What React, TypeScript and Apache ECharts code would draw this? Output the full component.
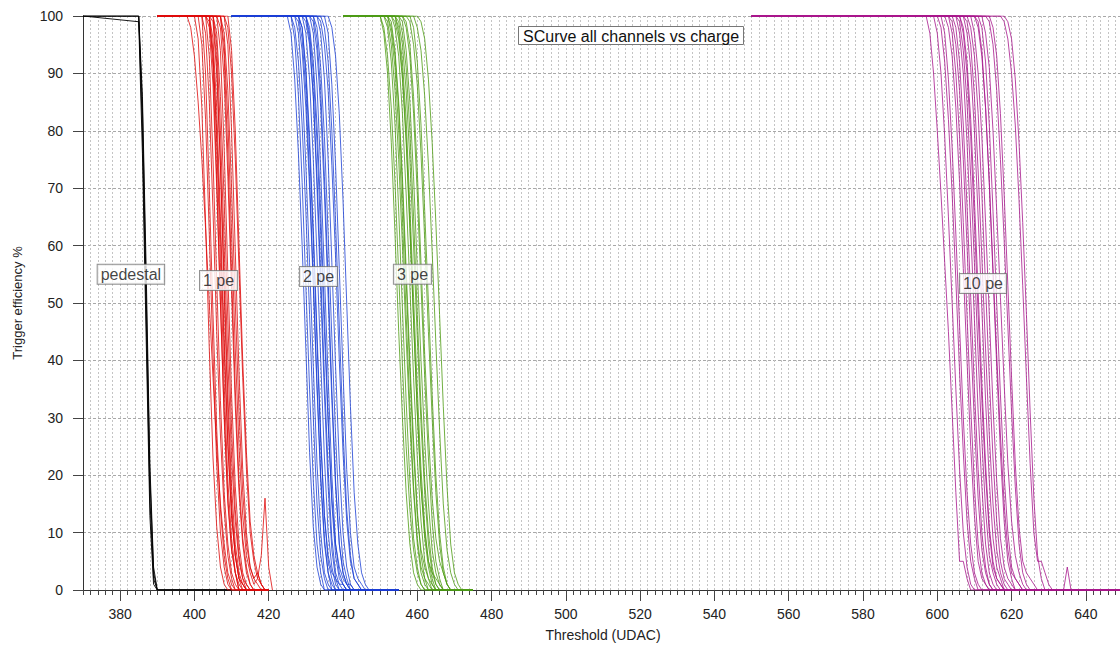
import React, { useEffect, useRef } from "react";
import * as echarts from "echarts";

// ---- data ----
const xTicks = [380, 400, 420, 440, 460, 480, 500, 520, 540, 560, 580, 600, 620, 640];
const yTicks = [0, 10, 20, 30, 40, 50, 60, 70, 80, 90, 100];

// pedestal (black): range and curves (values at consecutive thresholds from start)
const pedRange = [370, 410];
const pedStarts = [385, 385, 385, 385];
const pedValues = [
  [100, 80, 48, 16, 2, 0],
  [100, 84, 52, 20, 3, 0],
  [99, 76, 44, 13, 1, 0],
  [100, 86, 56, 22, 4, 0],
];

// 1 pe (red)
const pe1Range = [390, 420];
const pe1Starts = [401, 402, 402, 403, 403, 404, 404, 404, 405, 405, 405, 406, 406, 407, 407, 407, 408, 408, 409, 403, 400, 404, 398];
const pe1Values = [
  [100, 95, 82, 62, 41, 22, 10, 4, 1, 0],
  [100, 90, 70, 48, 28, 14, 6, 2, 0],
  [100, 97, 85, 66, 45, 27, 14, 6, 2, 0],
  [100, 93, 75, 54, 33, 17, 8, 3, 1, 0],
  [100, 98, 88, 70, 50, 31, 16, 7, 3, 0],
  [100, 94, 78, 57, 36, 19, 9, 3, 0],
  [100, 96, 84, 65, 44, 26, 13, 6, 2, 1, 0],
  [100, 99, 90, 74, 54, 34, 18, 8, 3, 1, 0],
  [100, 92, 74, 52, 31, 15, 6, 2, 0],
  [100, 97, 86, 68, 47, 28, 14, 6, 2, 0],
  [100, 95, 80, 60, 40, 23, 12, 5, 2, 1, 0],
  [100, 94, 77, 55, 34, 18, 8, 3, 1, 0],
  [100, 98, 89, 72, 52, 32, 17, 8, 3, 1, 0],
  [100, 95, 82, 62, 42, 25, 13, 6, 3, 1, 2, 6, 16, 4, 0],
  [100, 93, 76, 55, 35, 19, 9, 4, 1, 0],
  [100, 97, 87, 70, 50, 31, 17, 8, 4, 2, 1, 0],
  [100, 95, 80, 59, 38, 21, 10, 4, 2, 3, 1, 0],
  [100, 98, 90, 75, 56, 37, 21, 10, 5, 2, 1, 0],
  [100, 94, 80, 60, 40, 24, 12, 6, 3, 1, 0],
  [100, 99, 93, 80, 62, 42, 25, 13, 6, 2, 1, 0],
  [100, 96, 84, 64, 42, 23, 11, 4, 1, 0],
  [100, 91, 72, 50, 30, 15, 7, 3, 1, 0],
  [100, 98, 93, 85, 75, 63, 50, 37, 25, 15, 8, 3, 1, 0],
];

// 2 pe (blue)
const pe2Range = [410, 455];
const pe2Starts = [425, 426, 426, 427, 427, 428, 428, 429, 429, 430, 430, 431, 431, 432, 432, 433, 434, 435, 436, 428, 430, 433];
const pe2Values = [
  [100, 97, 89, 76, 60, 42, 24, 11, 4, 1, 0],
  [100, 96, 86, 71, 53, 35, 19, 8, 3, 0],
  [100, 98, 92, 81, 66, 48, 30, 15, 6, 2, 0],
  [100, 97, 88, 74, 57, 39, 22, 10, 3, 1, 0],
  [100, 99, 94, 84, 70, 53, 35, 19, 8, 3, 1, 0],
  [100, 96, 87, 72, 54, 36, 20, 9, 3, 0],
  [100, 98, 91, 79, 63, 45, 27, 13, 5, 2, 0],
  [100, 97, 89, 75, 58, 40, 23, 10, 4, 1, 0],
  [100, 99, 95, 86, 72, 55, 37, 21, 9, 3, 1, 0],
  [100, 96, 86, 70, 52, 34, 18, 7, 2, 0],
  [100, 98, 92, 81, 66, 48, 30, 15, 6, 2, 1, 0],
  [100, 97, 88, 73, 55, 37, 20, 8, 3, 1, 0],
  [100, 99, 94, 84, 69, 51, 33, 18, 8, 3, 1, 0],
  [100, 96, 87, 72, 54, 35, 19, 8, 3, 1, 0],
  [100, 98, 91, 79, 62, 44, 27, 13, 5, 2, 0],
  [100, 97, 89, 75, 57, 39, 22, 10, 4, 1, 0],
  [100, 98, 92, 80, 64, 46, 28, 14, 6, 2, 1, 0],
  [100, 97, 88, 74, 56, 38, 21, 10, 4, 2, 1, 0],
  [100, 98, 93, 83, 68, 50, 32, 17, 8, 3, 1, 0],
  [100, 98, 90, 77, 61, 43, 26, 13, 6, 3, 2, 1, 1, 0],
  [100, 97, 90, 78, 62, 45, 29, 16, 8, 4, 2, 1, 1, 0],
  [100, 99, 95, 87, 74, 58, 40, 24, 12, 5, 2, 1, 0],
];

// 3 pe (green)
const pe3Range = [440, 475];
const pe3Starts = [450, 450, 451, 451, 452, 452, 453, 453, 454, 454, 455, 455, 456, 457, 458, 460, 459, 452, 454, 456];
const pe3Values = [
  [100, 98, 93, 84, 71, 55, 39, 25, 14, 7, 3, 1, 0],
  [100, 97, 90, 78, 62, 45, 30, 17, 8, 3, 1, 0],
  [100, 99, 95, 87, 75, 60, 44, 29, 17, 8, 3, 1, 0],
  [100, 98, 92, 81, 66, 49, 33, 19, 9, 4, 1, 0],
  [100, 99, 94, 85, 72, 56, 40, 26, 14, 6, 2, 0],
  [100, 97, 91, 80, 65, 48, 32, 18, 9, 4, 2, 1, 0],
  [100, 98, 93, 83, 69, 53, 37, 23, 12, 5, 2, 0],
  [100, 99, 96, 89, 78, 63, 47, 31, 18, 9, 4, 1, 0],
  [100, 98, 92, 82, 67, 51, 35, 21, 11, 5, 2, 0],
  [100, 99, 95, 87, 75, 60, 44, 29, 17, 8, 3, 1, 0],
  [100, 97, 91, 80, 65, 48, 32, 19, 10, 4, 1, 0],
  [100, 99, 94, 85, 72, 56, 40, 26, 15, 7, 3, 1, 0],
  [100, 98, 93, 83, 69, 53, 37, 23, 12, 5, 2, 0],
  [100, 99, 95, 88, 76, 61, 45, 30, 17, 8, 3, 1, 0],
  [100, 98, 92, 81, 66, 50, 34, 20, 10, 4, 1, 0],
  [100, 99, 96, 89, 78, 64, 48, 32, 18, 8, 3, 1, 0],
  [100, 98, 94, 86, 74, 59, 43, 28, 15, 7, 3, 1, 0],
  [100, 98, 93, 84, 70, 54, 38, 24, 13, 7, 4, 2, 1, 0],
  [100, 97, 90, 79, 64, 47, 31, 18, 10, 5, 3, 2, 1, 0],
  [100, 99, 95, 86, 73, 57, 41, 27, 16, 9, 5, 3, 1, 0],
];

// 10 pe (magenta)
const pe10Range = [550, 650];
const pe10Starts = [597, 599, 600, 601, 602, 603, 603, 604, 605, 605, 606, 607, 607, 608, 609, 610, 611, 612, 613, 617, 618, 606, 610, 614];
const pe10Values = [
  [100, 97, 90, 80, 69, 57, 45, 31, 17, 5, 5, 2, 0],
  [100, 97, 90, 79, 65, 50, 35, 21, 10, 4, 1, 0],
  [100, 98, 92, 82, 69, 54, 38, 24, 12, 5, 2, 0],
  [100, 97, 89, 77, 62, 46, 30, 17, 8, 3, 1, 0],
  [100, 98, 93, 84, 71, 56, 40, 25, 13, 5, 2, 1, 0],
  [100, 97, 90, 79, 64, 48, 32, 18, 8, 3, 1, 0],
  [100, 99, 95, 87, 75, 60, 44, 29, 16, 7, 3, 1, 0],
  [100, 98, 92, 81, 67, 51, 35, 21, 10, 4, 1, 0],
  [100, 97, 90, 78, 63, 47, 31, 18, 8, 3, 1, 0],
  [100, 99, 94, 85, 72, 57, 41, 26, 14, 6, 3, 1, 0],
  [100, 98, 92, 82, 68, 52, 36, 22, 11, 5, 2, 1, 0],
  [100, 97, 91, 80, 65, 49, 33, 19, 9, 4, 2, 0],
  [100, 99, 95, 86, 73, 58, 42, 27, 15, 7, 3, 1, 0],
  [100, 98, 93, 83, 69, 53, 37, 23, 12, 5, 2, 1, 0],
  [100, 97, 90, 79, 64, 48, 32, 19, 9, 4, 2, 1, 0],
  [100, 99, 94, 84, 71, 55, 39, 24, 12, 5, 2, 0],
  [100, 98, 92, 81, 66, 50, 34, 20, 10, 4, 2, 1, 0],
  [100, 97, 91, 80, 66, 51, 36, 22, 12, 6, 3, 1, 0],
  [100, 99, 95, 87, 75, 61, 46, 31, 18, 8, 3, 1, 0],
  [100, 99, 96, 90, 81, 68, 53, 37, 22, 10, 5, 5, 3, 1, 0],
  [100, 99, 96, 89, 78, 64, 48, 31, 16, 6, 2, 0],
  [100, 97, 90, 79, 64, 48, 33, 20, 10, 4, 2, 1, 0, 0, 0, 0, 0, 0, 0, 0, 0, 0, 0, 0, 0, 0, 0, 0, 0, 4, 0],
  [100, 98, 93, 84, 71, 56, 41, 27, 15, 7, 3, 2, 1, 0],
  [100, 98, 93, 83, 69, 53, 37, 22, 11, 5, 3, 2, 1, 0],
];

// annotation labels
const labelNames = ["pedestal", "1 pe", "2 pe", "3 pe", "10 pe"];
const labelX = [382.9, 406.5, 433.4, 458.7, 612.3];
const labelY = [55.0, 53.9, 54.6, 55.0, 53.4];

const titleText = "SCurve all channels vs charge";

function buildCurves(range: number[], starts: number[], values: number[][]) {
  return values.map((vals, k) => {
    const pts: number[][] = [[range[0], 100]];
    vals.forEach((v, i) => pts.push([starts[k] + i, v]));
    const last = starts[k] + vals.length - 1;
    if (last < range[1]) pts.push([range[1], 0]);
    return pts;
  });
}

const groups = [
  { range: pedRange, starts: pedStarts, values: pedValues, color: "#000000", opacity: 0.9 },
  { range: pe1Range, starts: pe1Starts, values: pe1Values, color: "#de0a0a", opacity: 0.8 },
  { range: pe2Range, starts: pe2Starts, values: pe2Values, color: "#1c40d4", opacity: 0.8 },
  { range: pe3Range, starts: pe3Starts, values: pe3Values, color: "#4f9c14", opacity: 0.8 },
  { range: pe10Range, starts: pe10Starts, values: pe10Values, color: "#a8188c", opacity: 0.8 },
];

const GRID_LEFT = 83;
const GRID_TOP = 16;
const GRID_W = 1040;
const GRID_H = 574;

export default function App() {
  const ref = useRef<HTMLDivElement>(null);
  useEffect(() => {
    if (!ref.current) return;
    const chart = echarts.init(ref.current, null, { renderer: "svg" });
    const font = "Liberation Sans, Arial, sans-serif";
    const series: any[] = [];
    groups.forEach((g) => {
      buildCurves(g.range, g.starts, g.values).forEach((pts) => {
        series.push({
          type: "line",
          xAxisIndex: 0,
          yAxisIndex: 0,
          data: pts,
          showSymbol: false,
          silent: true,
          lineStyle: { color: g.color, width: 1, opacity: g.opacity },
          z: 3,
        });
      });
    });
    series.push({
      type: "scatter",
      xAxisIndex: 0,
      yAxisIndex: 0,
      symbolSize: 0,
      silent: true,
      z: 10,
      data: labelNames.map((n, i) => ({ value: [labelX[i], labelY[i]], name: n })),
      label: {
        show: true,
        position: "inside",
        formatter: (p: any) => p.name,
        color: "#111",
        fontSize: 16,
        fontFamily: font,
        backgroundColor: "#ffffff",
        borderColor: "#777",
        borderWidth: 1,
        padding: [2, 3, 1, 3],
      },
    });
    // The tick axis is shifted by 10 units so that its interval of 20 starts at 380.
    const shift = (GRID_W * 10) / 280;
    chart.setOption({
      animation: false,
      backgroundColor: "#ffffff",
      title: {
        text: titleText,
        left: 518,
        top: 26,
        backgroundColor: "#ffffff",
        borderColor: "#777",
        borderWidth: 1,
        padding: [2, 5, 1, 5],
        textStyle: { fontSize: 16, fontWeight: "normal", color: "#111", fontFamily: font },
      },
      grid: [
        { left: GRID_LEFT, top: GRID_TOP, width: GRID_W, height: GRID_H, containLabel: false, outerBoundsMode: "none" },
        { left: GRID_LEFT + shift, top: GRID_TOP, width: GRID_W, height: GRID_H, containLabel: false, outerBoundsMode: "none" },
      ],
      xAxis: [
        {
          type: "value",
          gridIndex: 0,
          min: 370,
          max: 650,
          interval: 2,
          name: "Threshold (UDAC)",
          nameLocation: "middle",
          nameGap: 38,
          nameTextStyle: { fontSize: 14, color: "#222", fontFamily: font },
          axisLine: { show: true, onZero: false, lineStyle: { color: "#333", width: 1 } },
          axisTick: { show: true, length: 5, lineStyle: { color: "#444" } },
          axisLabel: { show: false },
          splitLine: { show: true, lineStyle: { color: "#c4c4c4", type: [2, 2], width: 1 } },
        },
        {
          type: "value",
          gridIndex: 1,
          min: 380,
          max: 660,
          interval: 20,
          axisLine: { show: false, onZero: false },
          axisTick: { show: true, length: 11, lineStyle: { color: "#444" } },
          axisLabel: {
            fontSize: 14,
            color: "#222",
            margin: 17,
            fontFamily: font,
            formatter: (v: number) => (xTicks.includes(v) ? String(v) : ""),
          },
          splitLine: { show: false },
        },
      ],
      yAxis: [
        {
          type: "value",
          gridIndex: 0,
          min: 0,
          max: 100,
          interval: 10,
          name: "Trigger efficiency %",
          nameLocation: "middle",
          nameGap: 59,
          nameTextStyle: { fontSize: 13, color: "#222", fontFamily: font },
          axisLine: { show: true, lineStyle: { color: "#333", width: 1 } },
          axisTick: { show: true, length: 10, lineStyle: { color: "#444" } },
          axisLabel: {
            fontSize: 14,
            color: "#222",
            margin: 20,
            fontFamily: font,
            formatter: (v: number) => (yTicks.includes(v) ? String(v) : ""),
          },
          splitLine: { show: true, lineStyle: { color: "#a8a8a8", type: [3, 2], width: 1 } },
        },
        { type: "value", gridIndex: 1, min: 0, max: 100, show: false },
      ],
      series,
    });
    return () => chart.dispose();
  }, []);
  return (
    <div
      ref={ref}
      style={{ position: "fixed", left: 0, top: 0, width: 1120, height: 647, background: "#fff" }}
    />
  );
}
